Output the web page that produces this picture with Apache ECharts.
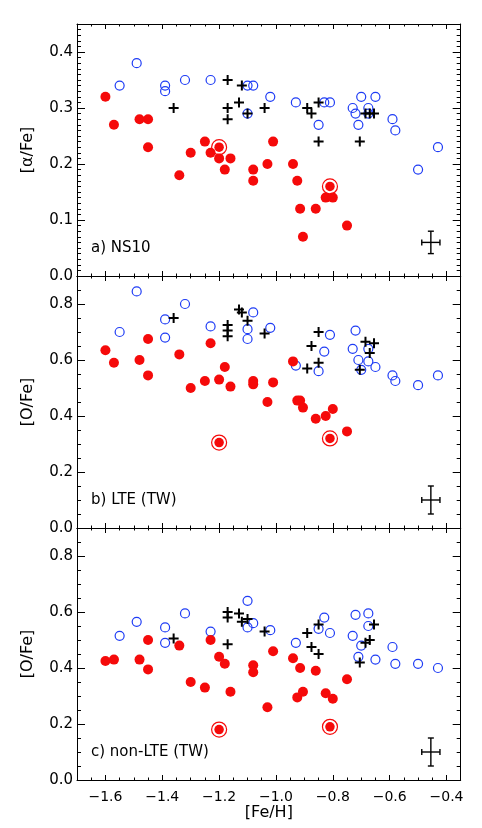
<!DOCTYPE html>
<html>
<head>
<meta charset="utf-8">
<script src="https://cdn.jsdelivr.net/npm/echarts@6/dist/echarts.min.js"></script>
<style>
  html, body { margin: 0; padding: 0; background: #fff; }
  #chart { width: 482px; height: 828px; }
</style>
</head>
<body>
<div id="chart"></div>
<script>
// red filled dots: [Fe/H] shared by the 3 panels, then [a/Fe], [O/Fe] LTE, [O/Fe] non-LTE
const redFeH    = [-1.60, -1.57, -1.48, -1.45, -1.45, -1.34, -1.30, -1.25, -1.23, -1.20, -1.18, -1.16,
                   -1.08, -1.08, -1.03, -1.01, -0.94, -0.925, -0.915, -0.905, -0.86, -0.825, -0.80, -0.75];
const redAlpha  = [0.32, 0.27, 0.28, 0.28, 0.23, 0.18, 0.22, 0.24, 0.22, 0.21, 0.19, 0.21,
                   0.19, 0.17, 0.20, 0.24, 0.20, 0.17, 0.12, 0.07, 0.12, 0.14, 0.14, 0.09];
const redOLte   = [0.635, 0.59, 0.60, 0.675, 0.545, 0.62, 0.50, 0.525, 0.66, 0.53, 0.575, 0.505,
                   0.525, 0.513, 0.45, 0.52, 0.595, 0.455, 0.455, 0.43, 0.39, 0.40, 0.425, 0.345];
const redONlte  = [0.425, 0.43, 0.43, 0.50, 0.395, 0.48, 0.35, 0.33, 0.50, 0.44, 0.415, 0.315,
                   0.41, 0.385, 0.26, 0.46, 0.435, 0.295, 0.40, 0.315, 0.39, 0.31, 0.29, 0.36];

// ringed red dots
const ringFeH   = [-1.20, -0.81];
const ringAlpha = [0.23, 0.16];
const ringOLte  = [0.305, 0.32];
const ringONlte = [0.18, 0.19];

// blue open circles
const blueFeH   = [-1.55, -1.49, -1.39, -1.39, -1.32, -1.23, -1.10, -1.10, -1.08, -1.02, -0.93, -0.85, -0.83,
                   -0.81, -0.73, -0.72, -0.71, -0.70, -0.675, -0.675, -0.65, -0.59, -0.58, -0.50, -0.43];
const blueAlpha = [0.34, 0.38, 0.34, 0.33, 0.35, 0.35, 0.34, 0.29, 0.34, 0.32, 0.31, 0.27, 0.31,
                   0.31, 0.30, 0.29, 0.27, 0.32, 0.30, 0.29, 0.32, 0.28, 0.26, 0.19, 0.23];
const blueOLte  = [0.70, 0.845, 0.745, 0.68, 0.80, 0.72, 0.71, 0.675, 0.77, 0.715, 0.58, 0.56, 0.63,
                   0.69, 0.64, 0.705, 0.60, 0.565, 0.64, 0.595, 0.575, 0.545, 0.525, 0.51, 0.545];
const blueONlte = [0.515, 0.565, 0.545, 0.49, 0.595, 0.53, 0.64, 0.545, 0.56, 0.535, 0.49, 0.54, 0.58,
                   0.525, 0.515, 0.59, 0.44, 0.48, 0.595, 0.55, 0.43, 0.475, 0.415, 0.415, 0.40];

// black crosses
const crossFeH   = [-1.36, -1.17, -1.17, -1.17, -1.13, -1.12, -1.10, -1.04, -0.89, -0.875, -0.85, -0.85,
                    -0.705, -0.685, -0.67, -0.655];
const crossAlpha = [0.30, 0.35, 0.30, 0.28, 0.31, 0.34, 0.29, 0.30, 0.30, 0.29, 0.31, 0.24,
                    0.24, 0.29, 0.29, 0.29];
const crossOLte  = [0.75, 0.725, 0.705, 0.685, 0.78, 0.77, 0.74, 0.695, 0.57, 0.65, 0.70, 0.59,
                    0.565, 0.665, 0.625, 0.66];
const crossONlte = [0.505, 0.60, 0.58, 0.485, 0.595, 0.565, 0.575, 0.53, 0.525, 0.475, 0.555, 0.45,
                    0.42, 0.49, 0.50, 0.555];

// typical error bar per panel: [Fe/H], value, dx, dy
const errAlpha = [-0.455, 0.06, 0.032, 0.02];
const errOLte  = [-0.455, 0.10, 0.032, 0.05];
const errONlte = [-0.455, 0.10, 0.032, 0.05];

const xTicks     = [-1.6, -1.4, -1.2, -1.0, -0.8, -0.6, -0.4];
const alphaTicks = [0.0, 0.1, 0.2, 0.3, 0.4];
const oTicks     = [0.0, 0.2, 0.4, 0.6, 0.8];
const panelNames = ['a) NS10', 'b) LTE (TW)', 'c) non-LTE (TW)'];
const yNames     = ['[\u03b1/Fe]', '[O/Fe]', '[O/Fe]'];

const FONT = 'DejaVu Sans';
const RED = '#f50a0a';
const BLUE = '#1e3cf5';

function steps(from, to, step) {
  const out = [];
  for (let v = from; v <= to + 1e-9; v += step) out.push(Math.round(v * 1000) / 1000);
  return out;
}
function pairs(xs, ys) {
  return xs.map((x, i) => [x, ys[i]]);
}

const xMinor = steps(-1.65, -0.4, 0.05);
const panels = [
  { top: 24,  max: 0.45, ticks: alphaTicks, minor: steps(0.01, 0.44, 0.01), red: redAlpha, ring: ringAlpha, blue: blueAlpha, cross: crossAlpha, err: errAlpha },
  { top: 276, max: 0.9,  ticks: oTicks,     minor: steps(0.05, 0.85, 0.05), red: redOLte,  ring: ringOLte,  blue: blueOLte,  cross: crossOLte,  err: errOLte },
  { top: 528, max: 0.9,  ticks: oTicks,     minor: steps(0.05, 0.85, 0.05), red: redONlte, ring: ringONlte, blue: blueONlte, cross: crossONlte, err: errONlte },
];

const grid = [];
const xAxis = [];
const yAxis = [];
const series = [];
const graphic = [];

function xAxisDef(g, pos, ticks, len, showLine, labels) {
  return {
    type: 'value', gridIndex: g, position: pos, min: -1.7, max: -0.35,
    axisLine: { show: showLine, onZero: false, lineStyle: { color: '#000', width: 1 } },
    axisTick: { show: true, inside: true, length: len, customValues: ticks, lineStyle: { color: '#000', width: 1 } },
    axisLabel: {
      show: labels, customValues: xTicks, margin: 10, color: '#000', fontSize: 14, fontFamily: FONT,
      formatter: (v) => v.toFixed(1).replace('-', '\u2212'),
    },
    splitLine: { show: false },
    name: labels ? '[Fe/H]' : '',
    nameLocation: 'middle',
    nameGap: 25,
    nameTextStyle: { color: '#000', fontSize: 16, fontFamily: FONT },
  };
}

function yAxisDef(g, pos, p, ticks, len, showLine, labels, name) {
  return {
    type: 'value', gridIndex: g, position: pos, min: 0, max: p.max,
    axisLine: { show: showLine, onZero: false, lineStyle: { color: '#000', width: 1 } },
    axisTick: { show: true, inside: true, length: len, customValues: ticks, lineStyle: { color: '#000', width: 1 } },
    axisLabel: {
      show: labels, customValues: p.ticks, margin: 4, color: '#000', fontSize: 15, fontFamily: FONT,
      formatter: (v) => v.toFixed(1),
    },
    splitLine: { show: false },
    name: name || '',
    nameLocation: 'middle',
    nameGap: 41,
    nameRotate: 90,
    nameTextStyle: { color: '#000', fontSize: 16, fontFamily: FONT },
  };
}

function renderErrorBar(params, api) {
  const x = api.value(0), y = api.value(1), dx = api.value(2), dy = api.value(3);
  const l = api.coord([x - dx, y]);
  const r = api.coord([x + dx, y]);
  const t = api.coord([x, y + dy]);
  const b = api.coord([x, y - dy]);
  const cap = 3;
  const style = { stroke: '#000', lineWidth: 1.4 };
  const seg = (x1, y1, x2, y2) => ({ type: 'line', shape: { x1, y1, x2, y2 }, style });
  return {
    type: 'group',
    children: [
      seg(l[0], l[1], r[0], r[1]),
      seg(t[0], t[1], b[0], b[1]),
      seg(l[0], l[1] - cap, l[0], l[1] + cap),
      seg(r[0], r[1] - cap, r[0], r[1] + cap),
      seg(t[0] - cap, t[1], t[0] + cap, t[1]),
      seg(b[0] - cap, b[1], b[0] + cap, b[1]),
    ],
  };
}

panels.forEach((p, i) => {
  grid.push({ left: 77, right: 21.3, top: p.top, height: 252, outerBoundsMode: 'none' });
  const last = i === panels.length - 1;
  // bottom / top, major then minor
  xAxis.push(xAxisDef(i, 'bottom', xTicks, 5, true, last));
  xAxis.push(xAxisDef(i, 'bottom', xMinor, 2.5, false, false));
  xAxis.push(xAxisDef(i, 'top', xTicks, 5, true, false));
  xAxis.push(xAxisDef(i, 'top', xMinor, 2.5, false, false));
  // left / right, major then minor
  yAxis.push(yAxisDef(i, 'left', p, p.ticks, 8, true, true, yNames[i]));
  yAxis.push(yAxisDef(i, 'left', p, p.minor, 4, false, false));
  yAxis.push(yAxisDef(i, 'right', p, p.ticks, 8, true, false));
  yAxis.push(yAxisDef(i, 'right', p, p.minor, 4, false, false));

  const ax = { xAxisIndex: i * 4, yAxisIndex: i * 4, silent: true };
  series.push({
    ...ax, type: 'scatter', symbol: 'circle', symbolSize: 9,
    itemStyle: { color: 'rgba(0,0,0,0)', borderColor: BLUE, borderWidth: 1.2, opacity: 1 },
    data: pairs(blueFeH, p.blue),
  });
  series.push({
    ...ax, type: 'scatter', symbol: 'circle', symbolSize: 10,
    itemStyle: { color: RED, opacity: 1 },
    data: pairs(redFeH, p.red),
  });
  series.push({
    ...ax, type: 'scatter', symbol: 'circle', symbolSize: 15,
    itemStyle: { color: 'rgba(0,0,0,0)', borderColor: RED, borderWidth: 1.2, opacity: 1 },
    data: pairs(ringFeH, p.ring),
  });
  series.push({
    ...ax, type: 'scatter', symbol: 'circle', symbolSize: 9.5,
    itemStyle: { color: RED, opacity: 1 },
    data: pairs(ringFeH, p.ring),
  });
  series.push({
    ...ax, type: 'scatter', symbol: 'path://M4,0H6V4H10V6H6V10H4V6H0V4H4Z', symbolSize: 10,
    itemStyle: { color: '#000', opacity: 1 },
    data: pairs(crossFeH, p.cross),
  });
  series.push({
    ...ax, type: 'custom', renderItem: renderErrorBar,
    encode: { x: 0, y: 1 },
    data: [p.err],
  });

  graphic.push({
    type: 'text', left: 91, top: p.top + 252 - 35,
    style: { text: panelNames[i], font: '15px "' + FONT + '"', fill: '#000' },
  });
});

const option = {
  animation: false,
  backgroundColor: '#fff',
  grid,
  xAxis,
  yAxis,
  series,
  graphic,
};

const myChart = echarts.init(document.getElementById('chart'), null, { renderer: 'canvas' });
myChart.setOption(option);
</script>
</body>
</html>
